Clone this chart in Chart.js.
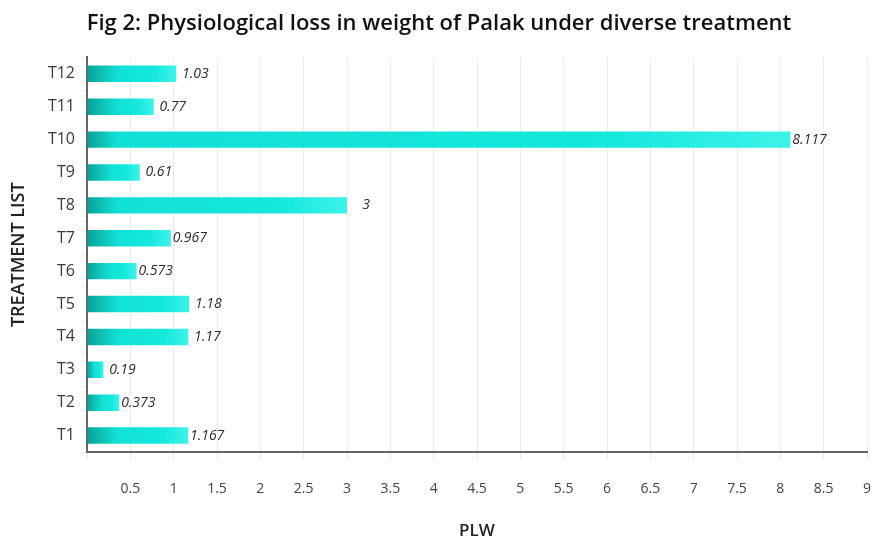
<!DOCTYPE html>
<html>
<head>
<meta charset="utf-8">
<script src="https://cdn.jsdelivr.net/npm/chart.js@4/dist/chart.umd.min.js"></script>
<style>
  html, body { margin: 0; padding: 0; background: #fff; }
  #wrap { width: 878px; height: 541px; }
</style>
</head>
<body>
<div id="wrap"><canvas id="chart" width="878" height="541"></canvas></div>
<script>
// Dados do gráfico
const treatments = ['T1', 'T2', 'T3', 'T4', 'T5', 'T6', 'T7', 'T8', 'T9', 'T10', 'T11', 'T12'];
const plwValues = [1.167, 0.373, 0.19, 1.17, 1.18, 0.573, 0.967, 3, 0.61, 8.117, 0.77, 1.03];
const valueLabels = ['1.167', '0.373', '0.19', '1.17', '1.18', '0.573', '0.967', '3', '0.61', '8.117', '0.77', '1.03'];

const FONT = '"Open Sans", "Noto Sans", sans-serif';

/**
 * Gradiente horizontal de cada barra: escuro na base, ciano vivo no resto.
 */
function barGradient(context) {
    const chart = context.chart;
    const xScale = chart.scales && chart.scales.x;
    if (!xScale || !chart.chartArea || context.raw === undefined) return '#12e3d6';
    const x0 = xScale.getPixelForValue(0);
    const x1 = xScale.getPixelForValue(context.raw);
    if (!isFinite(x0) || !isFinite(x1) || x1 - x0 < 1) return '#12e3d6';
    const g = chart.ctx.createLinearGradient(x0, 0, x1, 0);
    const w = x1 - x0;
    const darkStop = Math.min(0.45, 30 / w);
    g.addColorStop(0, '#0b9f97');
    g.addColorStop(darkStop, '#12e0d4');
    g.addColorStop(0.75, '#16e8dc');
    g.addColorStop(1, '#3ef3ea');
    return g;
}

// Rótulos de valor em itálico à direita das barras
const valueLabelPlugin = {
    id: 'valueLabels',
    afterDatasetsDraw(chart) {
        const ctx = chart.ctx;
        const meta = chart.getDatasetMeta(0);
        ctx.save();
        ctx.font = 'italic 14px ' + FONT;
        ctx.fillStyle = '#2b2b2b';
        ctx.textAlign = 'center';
        ctx.textBaseline = 'middle';
        meta.data.forEach((bar, i) => {
            ctx.fillText(valueLabels[i], bar.x + 19, bar.y);
        });
        ctx.restore();
    }
};

new Chart(document.getElementById('chart').getContext('2d'), {
    type: 'bar',
    data: {
        labels: treatments,
        datasets: [{
            label: 'PLW',
            data: plwValues,
            backgroundColor: barGradient,
            borderWidth: 0,
            barPercentage: 0.5,
            categoryPercentage: 1
        }]
    },
    options: {
        indexAxis: 'y',
        responsive: false,
        animation: false,
        layout: { padding: { left: 0, right: 0, top: 0, bottom: 0 } },
        scales: {
            x: {
                min: 0,
                max: 9,
                ticks: {
                    stepSize: 0.5,
                    color: '#444',
                    font: { family: FONT, size: 14 },
                    padding: 22,
                    callback: (v) => (v === 0 ? '' : String(v))
                },
                grid: { color: '#ececec', tickLength: 7, tickColor: '#e4e4e4' },
                border: { display: true, color: '#666', width: 2 },
                title: {
                    display: true,
                    text: 'PLW',
                    color: '#222',
                    font: { family: FONT, size: 17, weight: '600' },
                    padding: { top: 20, bottom: 0 }
                },
                afterFit: (scale) => {
                    scale.height = 541 - 452;
                    scale.paddingRight = 11;
                }
            },
            y: {
                reverse: true,
                ticks: {
                    color: '#3a3a3a',
                    font: { family: FONT, size: 16 },
                    padding: 6
                },
                grid: { display: true, drawOnChartArea: false, tickLength: 6, color: '#eeeeee', offset: true },
                border: { display: true, color: '#666', width: 2 },
                title: {
                    display: true,
                    text: 'TREATMENT LIST',
                    color: '#222',
                    font: { family: FONT, size: 18, weight: '600' },
                    padding: { top: 8, bottom: 14 }
                },
                afterFit: (scale) => { scale.width = 87; }
            }
        },
        plugins: {
            legend: { display: false },
            tooltip: { enabled: false },
            title: {
                display: true,
                text: 'Fig 2: Physiological loss in weight of Palak under diverse treatment',
                color: '#111',
                font: { family: FONT, size: 22, weight: '600' },
                padding: { top: 11, bottom: 20 }
            }
        }
    },
    plugins: [valueLabelPlugin]
});
</script>
</body>
</html>
